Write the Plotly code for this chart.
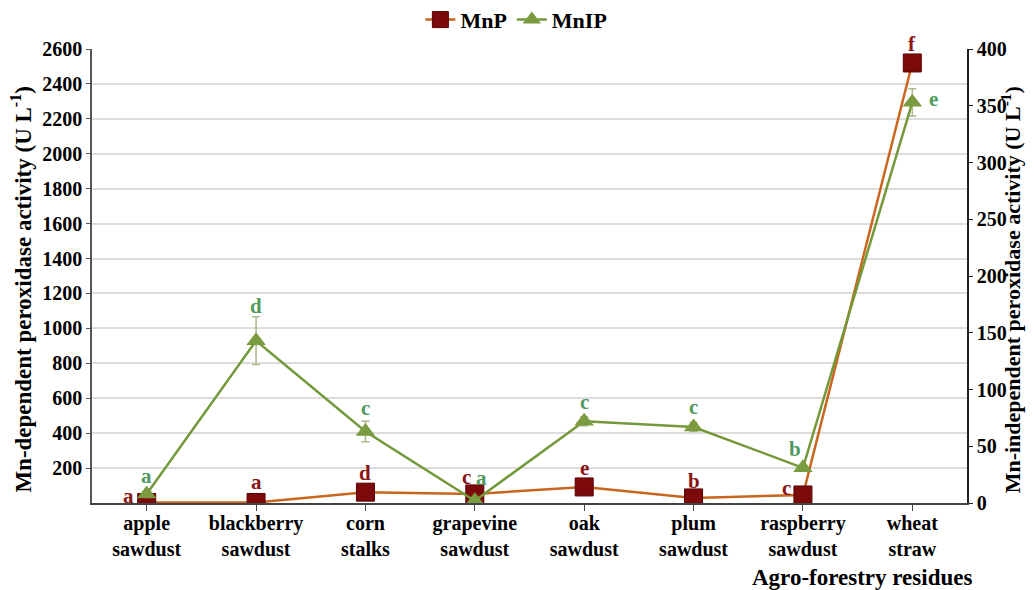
import plotly.graph_objects as go

categories = ["apple<br>sawdust", "blackberry<br>sawdust", "corn<br>stalks", "grapevine<br>sawdust",
              "oak<br>sawdust", "plum<br>sawdust", "raspberry<br>sawdust", "wheat<br>straw"]
mnp_values = [3, 3, 62, 52, 92, 29, 46, 2520]
mnip_values = [8, 143, 63, 2, 72, 67, 31, 353]
mnip_errors = [2, 21, 9, 1, 4, 4, 3, 12]
mnp_letters = ["a", "a", "d", "c", "e", "b", "c", "f"]
mnip_letters = ["a", "d", "c", "a", "c", "c", "b", "e"]
left_ticks = list(range(200, 2601, 200))
right_ticks = list(range(0, 401, 50))

FONT = "Liberation Serif"
MNP_LINE = "#c8661f"
MNP_MARK = "#7d0a0a"
MNIP_LINE = "#73993a"
MNIP_MARK = "#7a9b3f"
MNP_TXT = "#8b1515"
MNIP_TXT = "#4f9a5c"

x = list(range(len(categories)))

fig = go.Figure()
fig.add_trace(go.Scatter(
    x=x, y=mnp_values, name="MnP", mode="lines+markers",
    line=dict(color=MNP_LINE, width=2.5),
    marker=dict(symbol="square", size=18, color=MNP_MARK, line=dict(color="#5a0000", width=1)),
    yaxis="y"))
fig.add_trace(go.Scatter(
    x=x, y=mnip_values, name="MnIP", mode="lines+markers",
    line=dict(color=MNIP_LINE, width=2.5),
    marker=dict(symbol="triangle-up", size=17, color=MNIP_MARK),
    error_y=dict(type="data", array=mnip_errors, color="#a9b98a", thickness=1.5, width=4),
    yaxis="y2"))

# letter annotations (pixel offsets relative to points)
mnp_off = [(-18, 6), (0, 20), (0, 19), (-8, 17), (0, 19), (0, 17), (-16, 7), (0, 19)]
mnip_off = [(0, 18), (0, 35), (0, 24), (7, 23), (0, 19), (0, 20), (-8, 19), (21, 3)]
for i in x:
    fig.add_annotation(x=i, y=mnp_values[i], xref="x", yref="y", text="<b>%s</b>" % mnp_letters[i],
                       showarrow=False, xshift=mnp_off[i][0], yshift=mnp_off[i][1],
                       font=dict(family=FONT, size=21, color=MNP_TXT))
    fig.add_annotation(x=i, y=mnip_values[i], xref="x", yref="y2", text="<b>%s</b>" % mnip_letters[i],
                       showarrow=False, xshift=mnip_off[i][0], yshift=mnip_off[i][1],
                       font=dict(family=FONT, size=21, color=MNIP_TXT))

fig.add_annotation(x=-0.08, y=0.47, xref="paper", yref="paper", textangle=-90, showarrow=False,
                   xanchor="center", yanchor="middle",
                   text="<b>Mn-dependent peroxidase activity (U L<sup>-1</sup>)</b>",
                   font=dict(family=FONT, size=23, color="black"))
fig.add_annotation(x=1.05, y=0.47, xref="paper", yref="paper", textangle=-90, showarrow=False,
                   xanchor="center", yanchor="middle",
                   text="<b>Mn-independent peroxidase activity (U L<sup>-1</sup>)</b>",
                   font=dict(family=FONT, size=22, color="black"))
fig.add_annotation(x=0.88, y=-0.165, xref="paper", yref="paper", showarrow=False,
                   xanchor="center", yanchor="middle",
                   text="<b>Agro-forestry residues</b>",
                   font=dict(family=FONT, size=23, color="black"))

fig.update_layout(
    width=1034, height=590,
    margin=dict(l=84, r=75, t=41, b=95, autoexpand=False),
    paper_bgcolor="white", plot_bgcolor="white",
    font=dict(family=FONT, color="black"),
    showlegend=True,
    legend=dict(orientation="h", x=0.485, xanchor="center", yref="container", y=0.98, yanchor="middle",
                font=dict(family=FONT, size=22, weight="bold", color="black"),
                itemwidth=30, tracegroupgap=0),
    xaxis=dict(range=[-0.5, 7.5], tickvals=x, ticktext=["<b>%s</b>" % c for c in categories],
               tickfont=dict(family=FONT, size=20, color="black"), automargin=False,
               ticklabelstandoff=-5,
               showline=True, linecolor="#444", linewidth=2,
               ticks="outside", tickson="boundaries", ticklen=6, tickcolor="#444",
               showgrid=False, zeroline=False),
    yaxis=dict(range=[0, 2600], tickvals=left_ticks, automargin=False,
               ticktext=["<b>%d</b>" % v for v in left_ticks],
               tickfont=dict(family=FONT, size=20, color="black"),
               showline=True, linecolor="#555", linewidth=1.5,
               ticks="outside", ticklen=4, tickcolor="#555",
               showgrid=True, gridcolor="#dcdcdc", gridwidth=1.5, zeroline=False),
    yaxis2=dict(range=[0, 400], tickvals=right_ticks, overlaying="y", side="right", automargin=False,
                ticktext=["<b>%d</b>" % v for v in right_ticks],
                tickfont=dict(family=FONT, size=20, color="black"),
                showline=True, linecolor="#222", linewidth=1.5,
                ticks="outside", ticklen=4, tickcolor="#222",
                showgrid=False, zeroline=False),
)

fig.write_html("out.html")
